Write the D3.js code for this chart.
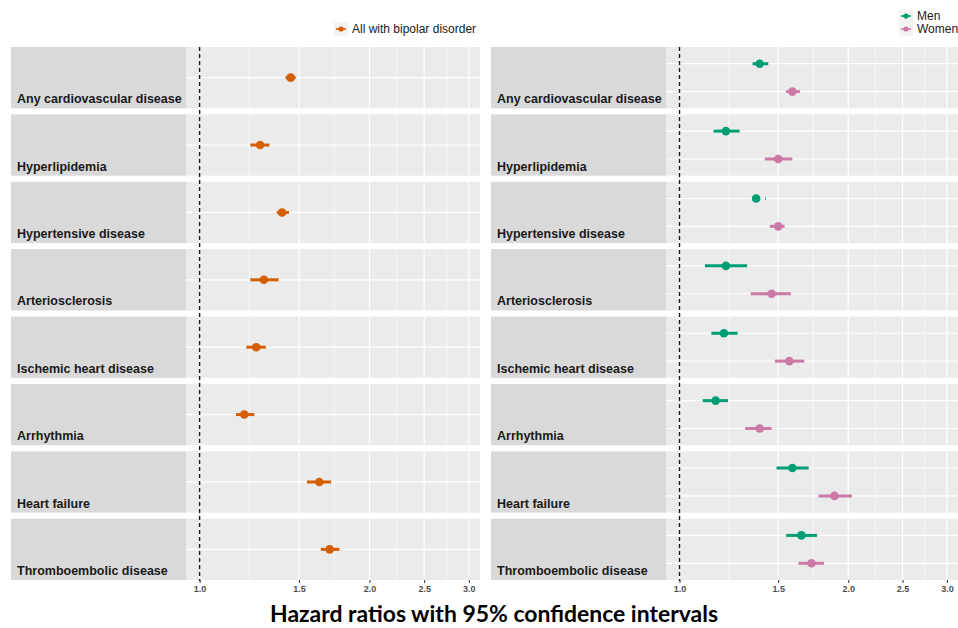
<!DOCTYPE html>
<html lang="en">
<head>
  <meta charset="UTF-8">
  <title>Hazard ratios with 95% confidence intervals</title>
  <script src="https://d3js.org/d3.v7.min.js"></script>
  <style>
    body { margin: 0; background: white; font-family: "Liberation Sans", Arial, sans-serif; }
    svg text { font-family: "Liberation Sans", Arial, sans-serif; }
  </style>
</head>
<body>
  <svg id="chart" width="958" height="628"></svg>

  <script>
    const outcomes = [
      "Any cardiovascular disease", "Hyperlipidemia", "Hypertensive disease", "Arteriosclerosis",
      "Ischemic heart disease", "Arrhythmia", "Heart failure", "Thromboembolic disease"
    ];

    // all with bipolar disorder
    const allHR = [1.45, 1.28, 1.40, 1.30, 1.26, 1.20, 1.63, 1.70];
    const allLo = [1.42, 1.23, 1.37, 1.23, 1.21, 1.16, 1.55, 1.64];
    const allHi = [1.48, 1.33, 1.44, 1.38, 1.31, 1.25, 1.71, 1.77];

    // men / women
    const menHR = [1.39, 1.21, 1.37, 1.21, 1.20, 1.16, 1.59, 1.65];
    const menLo = [1.35, 1.15, 1.421, 1.11, 1.14, 1.10, 1.49, 1.55];
    const menHi = [1.44, 1.28, 1.425, 1.32, 1.27, 1.22, 1.70, 1.76];
    const womenHR = [1.59, 1.50, 1.50, 1.46, 1.57, 1.39, 1.89, 1.72];
    const womenLo = [1.55, 1.42, 1.45, 1.34, 1.48, 1.31, 1.77, 1.63];
    const womenHi = [1.64, 1.59, 1.54, 1.58, 1.67, 1.46, 2.03, 1.81];

    const tickValues = [1.0, 1.5, 2.0, 2.5, 3.0];

    const colors = { "All": "#D55E00", "Men": "#009E73", "Women": "#CC79A7" };

    const svg = d3.select("#chart");

    const panels = [
      {
        stripX: 11, plotX: 186, plotR: 480, groups: ["All"],
        series: { "All": [allHR, allLo, allHi] }
      },
      {
        stripX: 491, plotX: 666, plotR: 958, groups: ["Men", "Women"],
        series: { "Men": [menHR, menLo, menHi], "Women": [womenHR, womenLo, womenHi] }
      }
    ];

    const y = d3.scaleBand()
      .domain(outcomes)
      .range([47, 580])
      .paddingInner(0.09)
      .paddingOuter(0);
    const bw = y.bandwidth();

    const minorTicks = d3.pairs(tickValues).map(([a, b]) => Math.sqrt(a * b));

    panels.forEach(p => {
      const x = d3.scaleLog().domain([0.946, 3.14]).range([p.plotX, p.plotR]);
      const sub = d3.scalePoint().domain(p.groups).range([0, bw]).padding(0.6);
      if (p.groups.length === 1) sub.range([0, bw]).padding(0.5);

      const row = svg.append("g").selectAll("g")
        .data(outcomes)
        .join("g")
        .attr("transform", d => `translate(0,${y(d)})`);

      row.append("rect")
        .attr("x", p.stripX).attr("y", 0)
        .attr("width", p.plotX - p.stripX).attr("height", bw)
        .attr("fill", "#d9d9d9");

      row.append("rect")
        .attr("x", p.plotX).attr("y", 0)
        .attr("width", p.plotR - p.plotX).attr("height", bw)
        .attr("fill", "#ebebeb");

      row.selectAll(".minor")
        .data(minorTicks)
        .join("line")
        .attr("x1", d => x(d)).attr("x2", d => x(d))
        .attr("y1", 0).attr("y2", bw)
        .attr("stroke", "#fff").attr("stroke-width", 0.6);

      row.selectAll(".major")
        .data(tickValues)
        .join("line")
        .attr("x1", d => x(d)).attr("x2", d => x(d))
        .attr("y1", 0).attr("y2", bw)
        .attr("stroke", "#fff").attr("stroke-width", 1.2);

      row.selectAll(".hgrid")
        .data(p.groups)
        .join("line")
        .attr("x1", p.plotX).attr("x2", p.plotR)
        .attr("y1", d => sub(d)).attr("y2", d => sub(d))
        .attr("stroke", "#fff").attr("stroke-width", 1.2);

      row.append("text")
        .attr("x", p.stripX + 6)
        .attr("y", bw - 5)
        .attr("font-size", 12.5)
        .attr("font-weight", "bold")
        .attr("fill", "#1a1a1a")
        .text(d => d);

      // error bars and points
      row.each(function(o, i) {
        const gRow = d3.select(this);
        p.groups.forEach(grp => {
          const [hr, lo, hi] = p.series[grp];
          gRow.append("line")
            .attr("x1", x(lo[i])).attr("x2", x(hi[i]))
            .attr("y1", sub(grp)).attr("y2", sub(grp))
            .attr("stroke", colors[grp]).attr("stroke-width", 3);
          gRow.append("circle")
            .attr("cx", x(hr[i])).attr("cy", sub(grp))
            .attr("r", 4.3)
            .attr("fill", colors[grp]);
        });
      });

      // reference line at HR = 1
      svg.append("line")
        .attr("x1", x(1)).attr("x2", x(1))
        .attr("y1", 47).attr("y2", 581)
        .attr("stroke", "#1a1a1a").attr("stroke-width", 1.4)
        .attr("stroke-dasharray", "4,3");

      const axis = svg.append("g")
        .attr("transform", `translate(0,${y.range()[1]})`)
        .call(d3.axisBottom(x).tickValues(tickValues).tickFormat(d3.format(".1f")).tickSize(3).tickPadding(3));
      axis.select(".domain").remove();
      axis.selectAll(".tick line").attr("stroke", "#333");
      axis.selectAll(".tick text")
        .attr("font-size", 9)
        .attr("font-weight", "bold")
        .attr("fill", "#4d4d4d");
    });

    // legends
    function legendKey(x0, yc, grp, label) {
      const k = svg.append("g");
      k.append("rect").attr("x", x0).attr("y", yc - 6.5).attr("width", 14).attr("height", 13).attr("fill", "#f2f2f2");
      k.append("line").attr("x1", x0 + 2).attr("x2", x0 + 12).attr("y1", yc).attr("y2", yc)
        .attr("stroke", colors[grp]).attr("stroke-width", 1.6);
      k.append("circle").attr("cx", x0 + 7).attr("cy", yc).attr("r", 2.6).attr("fill", colors[grp]);
      k.append("text").attr("x", x0 + 18).attr("y", yc + 4.3)
        .attr("font-size", 12).attr("fill", "#1a1a1a").text(label);
    }
    legendKey(334, 29, "All", "All with bipolar disorder");
    legendKey(899, 16, "Men", "Men");
    legendKey(899, 29, "Women", "Women");

    svg.append("text")
      .attr("x", 494).attr("y", 622)
      .attr("text-anchor", "middle")
      .style("font-family", "Lato, 'Open Sans', sans-serif")
      .attr("font-size", 22)
      .attr("font-weight", "bold")
      .attr("fill", "#000")
      .attr("textLength", 448)
      .attr("lengthAdjust", "spacingAndGlyphs")
      .text("Hazard ratios with 95% confidence intervals");
  </script>
</body>
</html>
